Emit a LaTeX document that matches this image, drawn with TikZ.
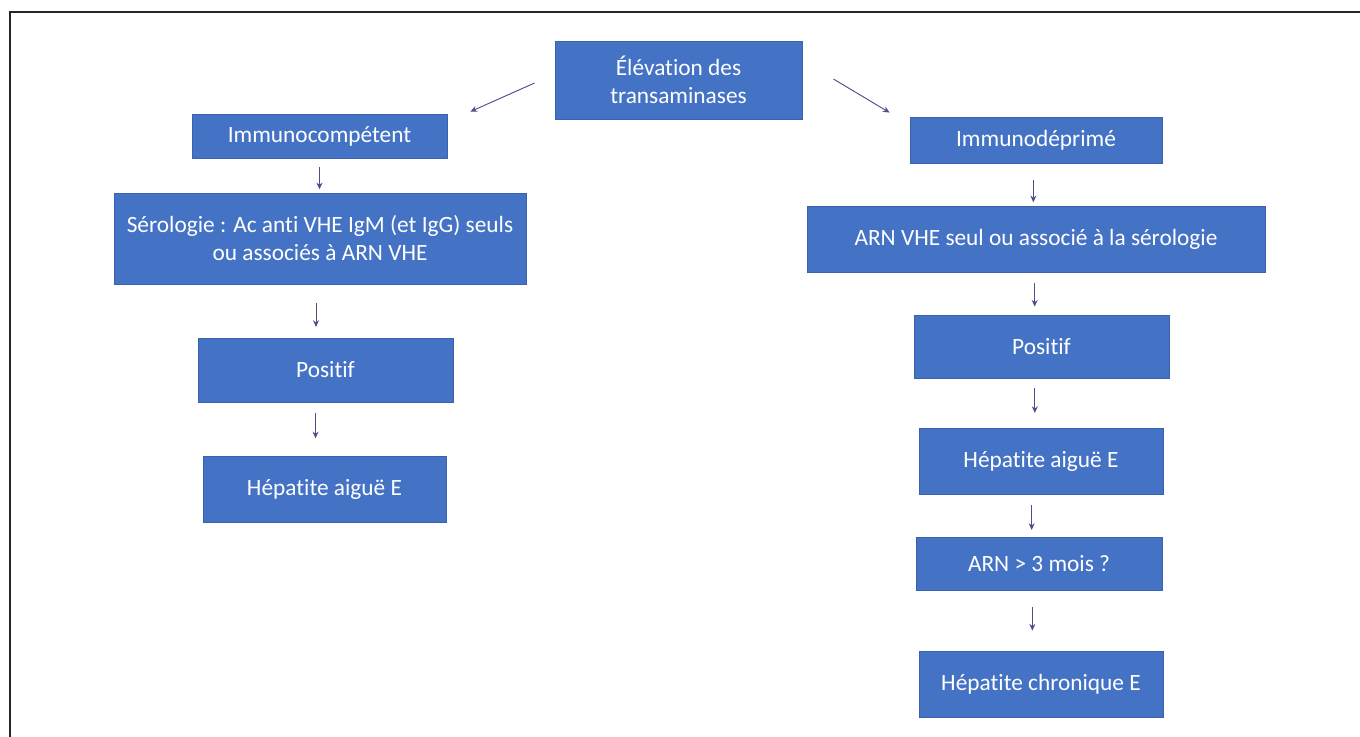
\documentclass[tikz,border=0pt]{standalone}
\usepackage{fontspec}
\setmainfont{Carlito}[Ligatures=NoCommon]
\usetikzlibrary{arrows.meta,calc}
\definecolor{boxblue}{HTML}{4472C4}
\definecolor{boxedge}{HTML}{3A62AC}
\definecolor{arrcol}{HTML}{4E4E8C}
\tikzset{
  box/.style={rectangle, fill=boxblue, draw=boxedge, line width=0.6pt, text=white,
    align=center, inner sep=0pt, font=\fontsize{17.5}{21}\selectfont},
  arr/.style={draw=arrcol, line width=0.7pt, -{Stealth[length=5pt,width=4.5pt]}},
  frameline/.style={draw=black!85, line width=1.3pt}
}
\begin{document}
\begin{tikzpicture}[x=0.75pt,y=-0.75pt]
\useasboundingbox[fill=white] (0,0) rectangle (1360,737);
\draw[frameline] (10,737) -- (10,12) -- (1360,12);

% nodes
\node[box, minimum width=247*0.75pt, minimum height=78*0.75pt] (top) at (678.5,80) {Élévation des\\transaminases};
\node[box, minimum width=255*0.75pt, minimum height=44*0.75pt] (imc) at (319.5,136) {Immunocompétent};
\node[box, minimum width=252*0.75pt, minimum height=46*0.75pt] (imd) at (1036,140) {Immunodéprimé};
\node[box, minimum width=412*0.75pt, minimum height=91*0.75pt] (sero) at (320,238.5) {Sérologie : Ac anti VHE IgM (et IgG) seuls\\ou associés à ARN VHE};
\node[box, minimum width=255*0.75pt, minimum height=64*0.75pt] (posL) at (325.5,370) {Positif};
\node[box, minimum width=243*0.75pt, minimum height=66*0.75pt] (hepL) at (324.5,489) {Hépatite aiguë E};
\node[box, minimum width=458*0.75pt, minimum height=66*0.75pt] (arn) at (1036,239) {ARN VHE seul ou associé à la sérologie};
\node[box, minimum width=255*0.75pt, minimum height=63*0.75pt] (posR) at (1041.5,346.5) {Positif};
\node[box, minimum width=244*0.75pt, minimum height=66*0.75pt] (hepR) at (1041,461) {Hépatite aiguë E};
\node[box, minimum width=246*0.75pt, minimum height=53*0.75pt] (arn3) at (1039,563.5) {ARN > 3 mois ?};
\node[box, minimum width=244*0.75pt, minimum height=66*0.75pt] (chr) at (1041,684) {Hépatite chronique E};

% diagonal connectors
\coordinate (dlS) at ($(top.west)+(-20,3)$);
\coordinate (dlE) at ($(imc.north east)+(23,-2)$);
\coordinate (drS) at ($(top.east)+(31,-1)$);
\coordinate (drE) at ($(imd.north west)+(-20,-4)$);
\draw[arr] (dlS) -- (dlE);
\draw[arr] (drS) -- (drE);

% vertical connectors
\draw[arr, shorten <=6.5pt, shorten >=2.5pt] (imc.south) -- (imc.south |- sero.north);
\draw[arr, shorten <=14pt, shorten >=8pt] ([xshift=-3pt]sero.south) -- ([xshift=-3pt]sero.south |- posL.north);
\draw[arr, shorten <=8pt, shorten >=13pt] ([xshift=-7.5pt]posL.south) -- ([xshift=-7.5pt]posL.south |- hepL.north);
\draw[arr, shorten <=12.5pt, shorten >=2.5pt] ([xshift=-2pt]imd.south) -- ([xshift=-2pt]imd.south |- arn.north);
\draw[arr, shorten <=8pt, shorten >=6pt] ([xshift=-1pt]arn.south) -- ([xshift=-1pt]arn.south |- posR.north);
\draw[arr, shorten <=7.5pt, shorten >=11pt] ([xshift=-5pt]posR.south) -- ([xshift=-5pt]posR.south |- hepR.north);
\draw[arr, shorten <=8pt, shorten >=5pt] ([xshift=-7pt]hepR.south) -- ([xshift=-7pt]hepR.south |- arn3.north);
\draw[arr, shorten <=12.5pt, shorten >=15pt] ([xshift=-5pt]arn3.south) -- ([xshift=-5pt]arn3.south |- chr.north);
\end{tikzpicture}
\end{document}
